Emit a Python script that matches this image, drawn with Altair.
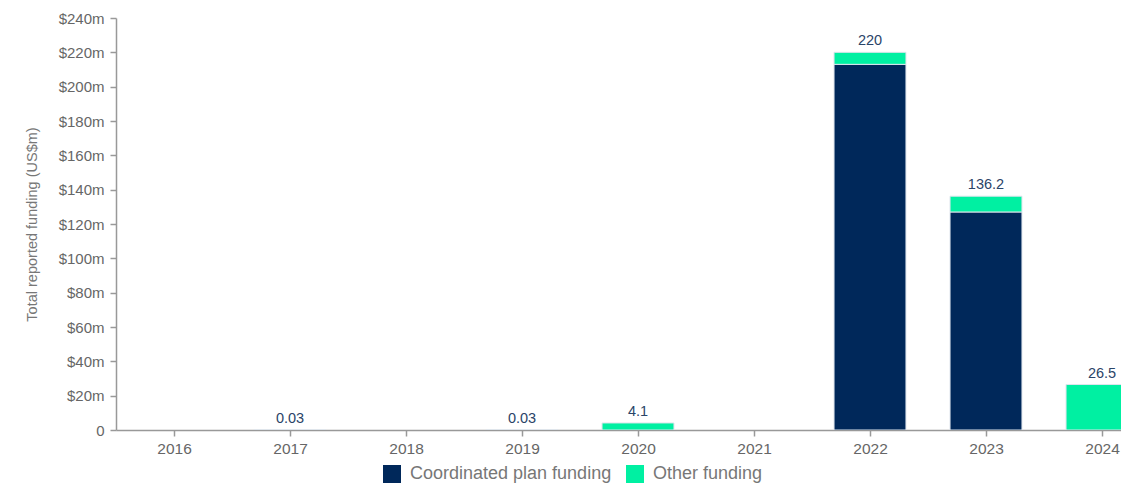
import altair as alt
import pandas as pd

years = [2016, 2017, 2018, 2019, 2020, 2021, 2022, 2023, 2024]
coordinated = [0, 0, 0, 0, 0, 0, 213.0, 127.0, 0]
other = [0, 0.03, 0, 0.03, 4.1, 0, 7.0, 9.2, 26.5]
totals = [0, 0.03, 0, 0.03, 4.1, 0, 220, 136.2, 26.5]
series_names = ["Coordinated plan funding", "Other funding"]
series_colors = ["#00285a", "#00f0a2"]
y_ticks = [0, 20, 40, 60, 80, 100, 120, 140, 160, 180, 200, 220, 240]

HALF = 0.31
rows = []
for i, yr in enumerate(years):
    for k, (name, vals) in enumerate(zip(series_names, [coordinated, other])):
        rows.append({"year": yr, "x0": yr - HALF, "x1": yr + HALF,
                     "series": name, "order": k, "value": vals[i]})
df = pd.DataFrame(rows)

lab = pd.DataFrame({"year": years, "total": totals})
lab = lab[lab["total"] > 0].copy()
lab["label"] = lab["total"].map(lambda v: f"{v:g}")

xscale = alt.Scale(domain=[2015.5, 2015.5 + 1005 / 116.0], nice=False, zero=False)
yscale = alt.Scale(domain=[0, 240], nice=False)

xaxis = alt.Axis(values=years, format="d", title=None, grid=False,
                 labelFontSize=15.5, labelColor="#666666", labelFont="Liberation Sans",
                 tickColor="#999999", domainColor="#999999", tickSize=6,
                 labelPadding=5, domainWidth=1.5, tickWidth=1.5,
                 labelOverlap=False, labelFlush=False)
yaxis = alt.Axis(values=y_ticks, grid=False, tickCount=13,
                 labelExpr="datum.value == 0 ? '0' : '$' + datum.value + 'm'",
                 labelFontSize=15, labelColor="#666666", labelFont="Liberation Sans",
                 tickColor="#999999", domainColor="#999999", tickSize=6,
                 labelPadding=6, domainWidth=1.5, tickWidth=1.5,
                 labelOverlap=False, labelFlush=False,
                 title="Total reported funding (US$m)", titleFontSize=14.5,
                 titleFontWeight="normal", titleColor="#777777",
                 titleFont="Liberation Sans", titlePadding=19)

bars = alt.Chart(df).transform_stack(
    stack="value", as_=["v0", "v1"], groupby=["year"],
    sort=[alt.SortField("order", order="ascending")],
).transform_filter("datum.value > 0").mark_bar(
    clip=True, stroke="#dde4ec", strokeWidth=1
).encode(
    x=alt.X("x0:Q", scale=xscale, axis=xaxis),
    x2="x1:Q",
    y=alt.Y("v0:Q", scale=yscale, axis=yaxis),
    y2="v1:Q",
    color=alt.Color("series:N", scale=alt.Scale(domain=series_names, range=series_colors),
                    legend=alt.Legend(title=None, orient="none", legendX=267, legendY=447,
                                      direction="horizontal", symbolType="square",
                                      symbolSize=324, symbolStrokeWidth=0,
                                      labelFontSize=18, labelColor="#777777",
                                      labelFont="Liberation Sans", labelOffset=9,
                                      labelLimit=400, columnPadding=14)),
)

texts = alt.Chart(lab).mark_text(baseline="bottom", dy=-4, fontSize=14.5,
                                 color="#2a4468", font="Liberation Sans").encode(
    x=alt.X("year:Q", scale=xscale, axis=xaxis),
    y=alt.Y("total:Q", scale=yscale, axis=yaxis),
    text="label:N",
)

chart = alt.layer(bars, texts).properties(
    width=1005, height=412,
    autosize=alt.AutoSizeParams(type="none"),
    padding={"left": 108, "top": 10, "right": 0, "bottom": 53},
).configure_view(stroke=None)

chart.save("out.html", embed_options={"renderer": "svg", "actions": False})
